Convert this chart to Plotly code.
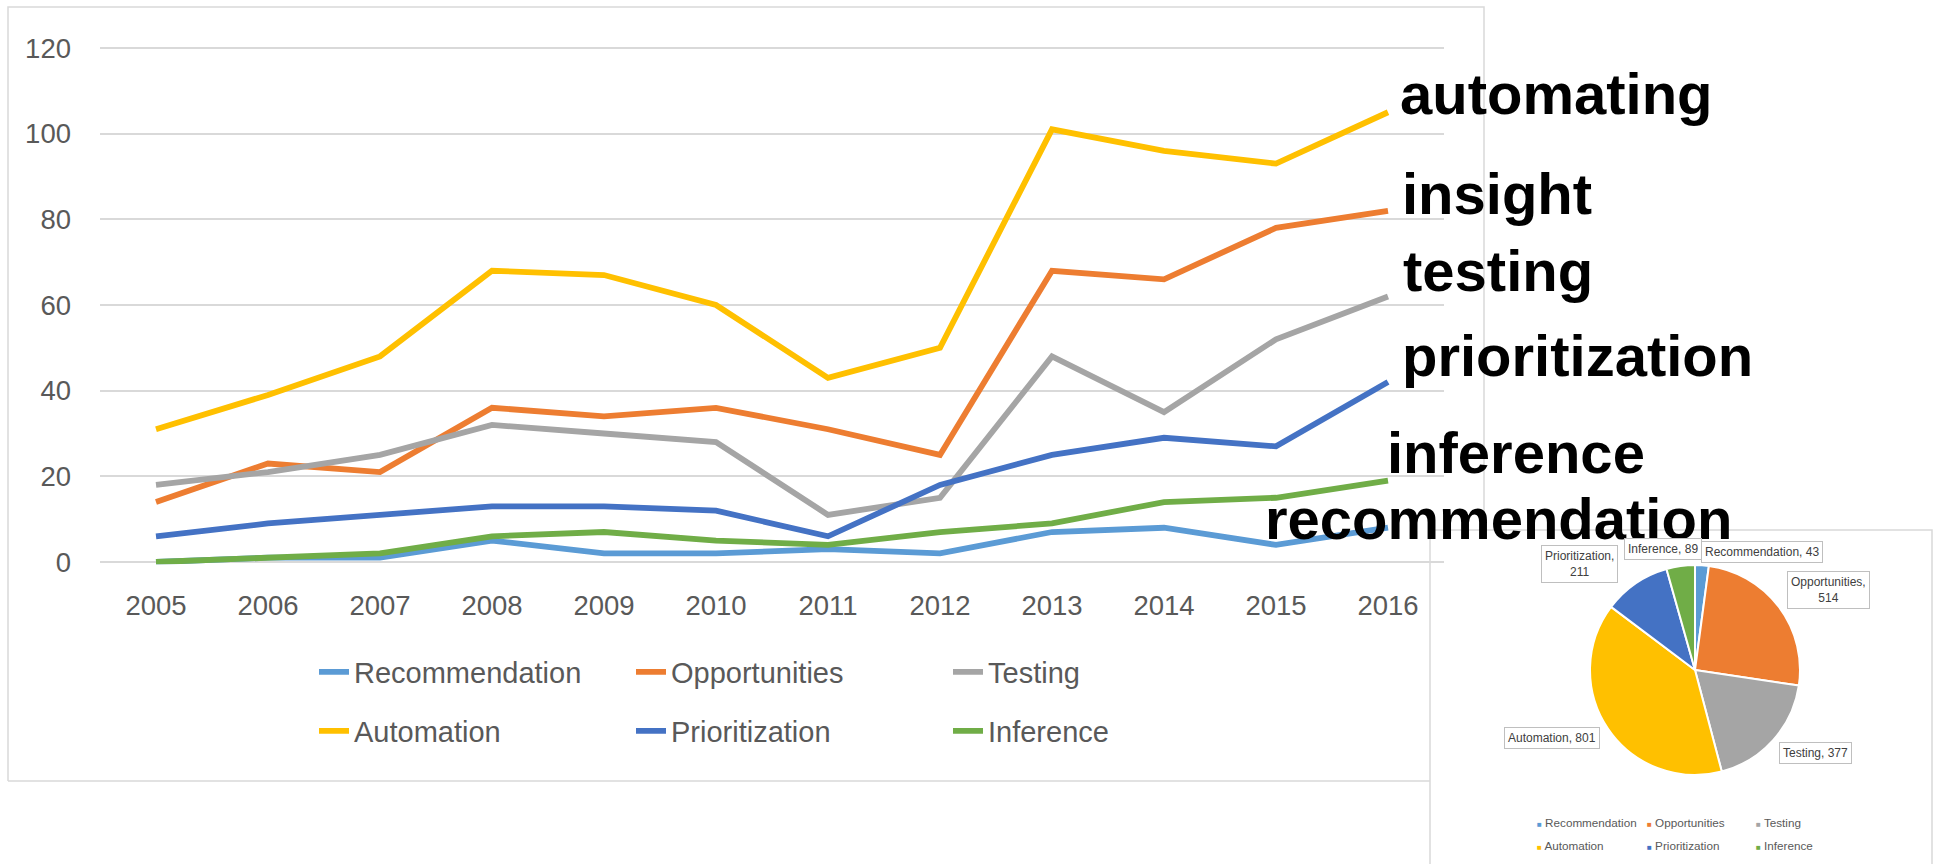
import plotly.graph_objects as go

# Figure canvas (pixels)
W, H = 1937, 864

# ---- data -------------------------------------------------------------
years = ["2005", "2006", "2007", "2008", "2009", "2010",
         "2011", "2012", "2013", "2014", "2015", "2016"]

recommendation = [0, 1, 1, 5, 2, 2, 3, 2, 7, 8, 4, 8]
opportunities = [14, 23, 21, 36, 34, 36, 31, 25, 68, 66, 78, 82]
testing = [18, 21, 25, 32, 30, 28, 11, 15, 48, 35, 52, 62]
automation = [31, 39, 48, 68, 67, 60, 43, 50, 101, 96, 93, 105]
prioritization = [6, 9, 11, 13, 13, 12, 6, 18, 25, 29, 27, 42]
inference = [0, 1, 2, 6, 7, 5, 4, 7, 9, 14, 15, 19]

series_names = ["Recommendation", "Opportunities", "Testing",
                "Automation", "Prioritization", "Inference"]
series_values = [recommendation, opportunities, testing,
                 automation, prioritization, inference]
series_colors = ["#5B9BD5", "#ED7D31", "#A5A5A5",
                 "#FFC000", "#4472C4", "#70AD47"]

# keyword captions shown to the right of the line chart (top to bottom)
keywords = ["automating", "insight", "testing",
            "prioritization", "inference", "recommendation"]

y_ticks = [0, 20, 40, 60, 80, 100, 120]

# ---- helpers: pixel position -> paper fraction --------------------------
def fx(p):
    return p / W


def fy(p):
    return 1 - p / H


FONT = "Liberation Sans, Arial, sans-serif"
GRAY_TXT = "#595959"
GRID = "#d9d9d9"

fig = go.Figure()

# ---- line chart -------------------------------------------------------
for i, (name, vals, col) in enumerate(zip(series_names, series_values, series_colors)):
    fig.add_trace(go.Scatter(
        x=years, y=vals, name=name, mode="lines",
        line=dict(color=col, width=5.8),
        legend="legend" if i < 3 else "legend2",
    ))

# ---- pie chart of totals ----------------------------------------------
totals = [sum(v) for v in series_values]
pie_cx, pie_cy, pie_r = 1695, 670, 105
fig.add_trace(go.Pie(
    labels=series_names, values=totals, sort=False,
    direction="clockwise", rotation=0, textinfo="none",
    marker=dict(colors=series_colors, line=dict(color="white", width=2)),
    domain=dict(x=[fx(pie_cx - pie_r), fx(pie_cx + pie_r)],
                y=[fy(pie_cy + pie_r), fy(pie_cy - pie_r)]),
    showlegend=False, hoverinfo="label+value",
))

# y axis spans 0..120 between pixel rows 562 and 48; pad the range a little
pad = 0.5
unit = (562 - 48) / 120
y_dom = [fy(562 + pad * unit), fy(48 - pad * unit)]

legend_common = dict(
    orientation="h", xanchor="left", yanchor="middle",
    font=dict(family=FONT, size=29, color=GRAY_TXT),
    bgcolor="rgba(0,0,0,0)", entrywidth=272, entrywidthmode="pixels",
    itemwidth=30, traceorder="normal",
)

fig.update_layout(
    width=W, height=H,
    margin=dict(l=0, r=0, t=0, b=0),
    paper_bgcolor="white", plot_bgcolor="white",
    template="none",
    xaxis=dict(
        domain=[fx(100), fx(1444)], type="category",
        range=[-0.5, len(years) - 0.5],
        showgrid=False, zeroline=False, showline=False, ticks="",
        tickfont=dict(family=FONT, size=27.5, color=GRAY_TXT),
        ticklabelstandoff=22, fixedrange=True,
    ),
    yaxis=dict(
        domain=y_dom, range=[-pad, 120 + pad],
        tickmode="array", tickvals=y_ticks,
        showgrid=True, gridcolor=GRID, gridwidth=1.6,
        zeroline=False, showline=False, ticks="",
        tickfont=dict(family=FONT, size=27.5, color=GRAY_TXT),
        ticklabelstandoff=28, fixedrange=True,
    ),
    legend=dict(legend_common, x=fx(314), y=fy(672)),
    legend2=dict(legend_common, x=fx(314), y=fy(731)),
)

# ---- frames: line-chart border and the pie-chart panel -----------------
shapes = [
    dict(type="path", xref="paper", yref="paper", layer="below",
         path=f"M {fx(8)},{fy(781)} L {fx(8)},{fy(7)} L {fx(1484)},{fy(7)} L {fx(1484)},{fy(530)}",
         line=dict(color=GRID, width=1.5)),
    dict(type="line", xref="paper", yref="paper", layer="below",
         x0=fx(8), y0=fy(781), x1=fx(1430), y1=fy(781),
         line=dict(color=GRID, width=1.5)),
    dict(type="rect", xref="paper", yref="paper", layer="below",
         x0=fx(1430), y0=fy(872), x1=fx(1932), y1=fy(530),
         fillcolor="white", line=dict(color=GRID, width=1.5)),
]
fig.update_layout(shapes=shapes)

annotations = []

# big keyword captions
kw_pos = [(1398, 94), (1400, 193), (1401, 270), (1400, 355), (1385, 452), (1263, 518)]
for word, (kx, ky) in zip(keywords, kw_pos):
    annotations.append(dict(
        xref="paper", yref="paper", x=fx(kx), y=fy(ky),
        xanchor="left", yanchor="middle", showarrow=False,
        text=f"<b>{word}</b>",
        font=dict(family=FONT, size=58, color="black"),
    ))

# pie data-label callouts
callout_pos = {
    "Recommendation": (1762, 552, False),
    "Opportunities": (1828, 590, True),
    "Testing": (1815, 753, False),
    "Automation": (1552, 738, False),
    "Prioritization": (1579, 564, True),
    "Inference": (1663, 549, False),
}
for name, total in zip(series_names, totals):
    cx, cy, two_line = callout_pos[name]
    sep = ",<br>" if two_line else ", "
    annotations.append(dict(
        xref="paper", yref="paper", x=fx(cx), y=fy(cy),
        xanchor="center", yanchor="middle", showarrow=False,
        text=f"{name}{sep}{total}", align="center",
        font=dict(family=FONT, size=12, color="#404040"),
        bgcolor="white", bordercolor="#bfbfbf", borderwidth=1, borderpad=3,
    ))

# pie legend (3 x 2 grid)
pie_leg_x = [1535, 1645, 1754]
pie_leg_y = [822, 845]
for k, (name, col) in enumerate(zip(series_names, series_colors)):
    lx = pie_leg_x[k % 3]
    ly = pie_leg_y[k // 3]
    annotations.append(dict(
        xref="paper", yref="paper", x=fx(lx), y=fy(ly),
        xanchor="left", yanchor="middle", showarrow=False,
        text=f"<span style='color:{col};font-size:8px'>■</span> {name}",
        font=dict(family=FONT, size=11.7, color=GRAY_TXT),
    ))

fig.update_layout(annotations=annotations)

fig.write_html("out.html")
